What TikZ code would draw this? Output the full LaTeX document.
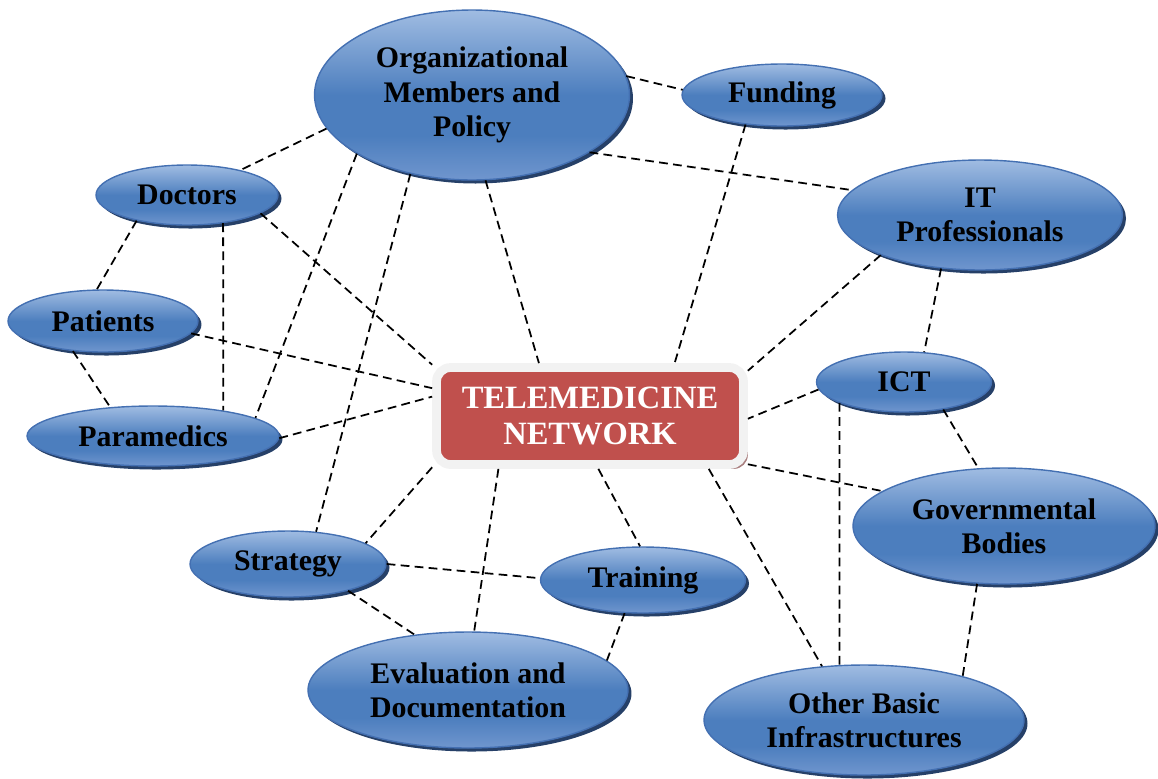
\documentclass[tikz,border=0pt]{standalone}
\usepackage{fontspec}
\setmainfont{Liberation Serif}
\usetikzlibrary{shapes.geometric,shadows}

\definecolor{elltop}{RGB}{160,188,226}
\definecolor{ellmid}{RGB}{76,126,190}
\definecolor{ellbot}{RGB}{112,150,206}
\definecolor{elledge}{RGB}{68,112,178}
\definecolor{ellshadow}{RGB}{38,64,104}
\definecolor{hubred}{RGB}{192,80,77}
\definecolor{hubrim}{RGB}{242,242,242}
\definecolor{hubshadow}{RGB}{170,128,128}

\pgfdeclareverticalshading{actorshade}{100bp}{color(0bp)=(ellbot); color(25bp)=(ellbot); color(38bp)=(ellmid); color(50bp)=(ellmid); color(75bp)=(elltop); color(100bp)=(elltop)}

\begin{document}
\begin{tikzpicture}[
			x=0.02cm, y=-0.02cm,
			font=\fontsize{17}{19.5}\selectfont\bfseries,
			actor/.style={
					ellipse,
					inner sep=0pt,
					draw=elledge,
					line width=0.8pt,
					shading=actorshade,
					drop shadow={shadow xshift=2pt, shadow yshift=-2pt, fill=ellshadow, opacity=1},
					align=center
				},
			hub/.style={
					rectangle,
					rounded corners=8pt,
					draw=hubrim,
					line width=5pt,
					fill=hubred,
					text=white,
					inner sep=0pt,
					minimum width=6.14cm,
					minimum height=1.94cm,
					font=\fontsize{18.5}{21}\selectfont\bfseries,
					drop shadow={shadow xshift=2.5pt, shadow yshift=-2.5pt, fill=hubshadow, opacity=1},
					align=center
				},
			link/.style={line width=1pt, dash pattern=on 5pt off 3pt}
		]

		\useasboundingbox (0,0) rectangle (1158,778);

		% Nodes
		\node[hub] (tele) at (590,416) {TELEMEDICINE\\NETWORK};
		\node[actor, minimum width=6.3cm, minimum height=3.4cm] (org) at (472,95) {Organizational\\Members and\\Policy};
		\node[actor, minimum width=4cm, minimum height=1.24cm] (funding) at (782,95) {Funding};
		\node[actor, minimum width=5.7cm, minimum height=2.2cm] (itpro) at (980,215) {IT\\Professionals};
		\node[actor, minimum width=3.64cm, minimum height=1.2cm] (doctors) at (187,195) {Doctors};
		\node[actor, minimum width=3.8cm, minimum height=1.24cm] (patients) at (103,321) {Patients};
		\node[actor, minimum width=5.04cm, minimum height=1.2cm] (paramedics) at (153,436) {Paramedics};
		\node[actor, minimum width=3.5cm, minimum height=1.2cm] (ict) at (904,382) {ICT};
		\node[actor, minimum width=6.04cm, minimum height=2.32cm] (gov) at (1004,526) {Governmental\\Bodies};
		\node[actor, minimum width=3.92cm, minimum height=1.32cm] (strategy) at (288,564) {Strategy};
		\node[actor, minimum width=4.1cm, minimum height=1.32cm] (training) at (643,580) {Training};
		\node[actor, minimum width=6.4cm, minimum height=2.32cm] (evaluation) at (468,690) {Evaluation and\\Documentation};
		\node[actor, minimum width=6.4cm, minimum height=2.2cm] (other) at (864,720) {Other Basic\\Infrastructures};

		% Links
		\draw[link] (org.7) -- (funding.177);
		\draw[link] (org.-26) -- (itpro.169);
		\draw[link] (org.193) -- (doctors.25);
		\draw[link] (org.207) -- (paramedics.10);
		\draw[link] (org.232) -- (strategy.49);
		\draw[link] (org.279) -- (tele.134);
		\draw[link] (funding.219) -- (tele.32);
		\draw[link] (itpro.202) -- (tele.16);
		\draw[link] (itpro.234) -- (ict.56);
		\draw[link] (doctors.207) -- (patients.101);
		\draw[link] (doctors.322) -- (paramedics.20);
		\draw[link] (doctors.346) -- (tele.162);
		\draw[link] (patients.225) -- (paramedics.146);
		\draw[link] (patients.352) -- (tele.170);
		\draw[link] (paramedics.359) -- (tele.173);
		\draw[link] (ict.185) -- (tele.359);
		\draw[link] (ict.325) -- (gov.114);
		\draw[link] (ict.198) -- (other.114);
		\draw[link] (tele.343) -- (gov.164);
		\draw[link] (tele.336) -- (other.128);
		\draw[link] (tele.279) -- (training.95);
		\draw[link] (tele.210) -- (evaluation.84);
		\draw[link] (tele.198) -- (strategy.15);
		\draw[link] (strategy.0) -- (training.179);
		\draw[link] (strategy.336) -- (evaluation.134);
		\draw[link] (training.241) -- (evaluation.12);
		\draw[link] (gov.245) -- (other.24);

	\end{tikzpicture}
\end{document}
